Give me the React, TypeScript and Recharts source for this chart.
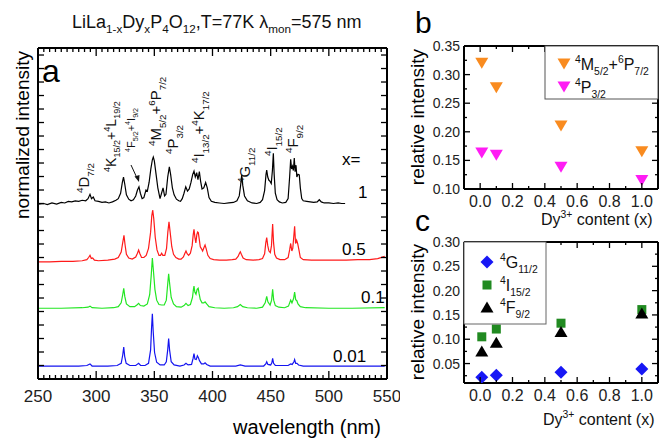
import React from "react";
import { LineChart, Line, XAxis, YAxis, ScatterChart, Scatter } from "recharts";

const FONT = "'Liberation Sans', Arial, Helvetica, sans-serif";

// Спектри: [довжина хвилі, нм; нормована інтенсивність над власною базовою лінією]
const specX1: [number, number][] = [
  [250, 0.0], [255, 0.01], [258, -0.01], [262, 0.02], [266, 0.0], [270, 0.03], [273, 0.02],
  [276, 0.05], [279, 0.04], [282, 0.06], [285, 0.05], [288, 0.07], [291, 0.06], [293, 0.1],
  [294.7, 0.18], [296, 0.1], [297.5, 0.13], [299, 0.06], [302, 0.05], [305, 0.03], [308, 0.04],
  [311, 0.02], [314, 0.04], [317, 0.07], [319, 0.1], [321, 0.2], [322.5, 0.4], [323.5, 0.5],
  [324.5, 0.38], [326, 0.17], [328, 0.09], [330, 0.06], [332, 0.08], [334, 0.15], [335.5, 0.26],
  [336.8, 0.32], [338, 0.2], [339.5, 0.1], [341, 0.12], [342.8, 0.26], [344, 0.24], [345.5, 0.4],
  [347, 0.65], [348.3, 0.82], [349.1, 0.87], [350, 0.8], [351.5, 0.55], [353, 0.3], [354.9, 0.1],
  [356.2, 0.2], [357.5, 0.3], [358.8, 0.15], [360, 0.18], [361.5, 0.5], [362.9, 0.69], [364, 0.55],
  [365.5, 0.3], [367, 0.17], [369, 0.09], [371, 0.06], [372.5, 0.05], [374, 0.1], [375.5, 0.2],
  [377, 0.32], [378.5, 0.24], [380, 0.28], [381.5, 0.4], [383, 0.55], [384.1, 0.61], [385.2, 0.5],
  [386.4, 0.58], [387.5, 0.45], [388.7, 0.6], [389.8, 0.42], [391, 0.28], [392.5, 0.3], [394.1, 0.4],
  [395.5, 0.3], [397, 0.12], [399, 0.05], [402, 0.03], [406, 0.02], [410, 0.01], [414, 0.02],
  [418, 0.03], [421, 0.06], [423, 0.15], [424.2, 0.35], [425.1, 0.54], [426, 0.35], [427.5, 0.15],
  [430, 0.06], [434, 0.02], [438, 0.01], [441, 0.03], [443, 0.08], [444.8, 0.25], [446, 0.55],
  [446.6, 0.63], [447.5, 0.5], [448.5, 0.44], [449.5, 0.42], [450.5, 0.38], [451.5, 0.62],
  [452.3, 0.94], [453, 0.55], [454, 0.2], [455.5, 0.08], [457.5, 0.04], [460, 0.02], [463, 0.03],
  [465, 0.1], [466.3, 0.5], [467.2, 0.83], [468, 0.65], [468.8, 0.7], [469.5, 0.62], [470.3, 0.85],
  [471, 0.6], [471.8, 0.72], [472.5, 0.5], [473.5, 0.55], [474.6, 0.54], [475.5, 0.3], [476.7, 0.1],
  [478, 0.06], [481, 0.05], [484, 0.04], [487, 0.03], [490, 0.04], [491.8, 0.08], [493.5, 0.04],
  [496, 0.02], [500, 0.02], [504, 0.01], [508, 0.02], [511, 0.01], [514, 0.01],
];

const specX05: [number, number][] = [
  [250, 0.0], [260, 0.0], [270, 0.01], [280, 0.01], [288, 0.02], [292, 0.04], [293.5, 0.08],
  [294.7, 0.12], [295.8, 0.06], [297, 0.07], [298.5, 0.03], [302, 0.02], [310, 0.03], [316, 0.05],
  [319, 0.08], [321.5, 0.18], [322.8, 0.35], [323.9, 0.49], [324.8, 0.32], [326, 0.14], [328, 0.07],
  [331, 0.05], [334, 0.09], [335.5, 0.16], [336.5, 0.22], [337.6, 0.15], [339, 0.08], [341, 0.08],
  [343, 0.12], [345, 0.25], [346.8, 0.55], [347.8, 0.85], [348.6, 0.96], [349.5, 0.8], [350.8, 0.45],
  [352.3, 0.22], [354, 0.12], [355.3, 0.12], [356.3, 0.16], [357.3, 0.12], [359, 0.12], [360.5, 0.25],
  [361.6, 0.55], [362.6, 0.74], [363.6, 0.55], [365, 0.28], [366.5, 0.14], [368.5, 0.08], [371, 0.05],
  [373, 0.05], [375, 0.09], [376.3, 0.16], [377.2, 0.2], [378.2, 0.15], [379.5, 0.12], [381, 0.16],
  [382.5, 0.3], [383.4, 0.5], [384.1, 0.6], [384.9, 0.45], [385.7, 0.35], [386.5, 0.5], [387.2, 0.55],
  [387.8, 0.54], [388.6, 0.42], [389.5, 0.28], [390.3, 0.25], [391.5, 0.2], [392.6, 0.26],
  [393.6, 0.31], [394.6, 0.24], [396, 0.12], [398, 0.06], [401, 0.04], [406, 0.03], [412, 0.03],
  [417, 0.04], [420, 0.05], [422, 0.1], [423.2, 0.16], [423.9, 0.185], [424.8, 0.14], [426.3, 0.07],
  [429, 0.04], [435, 0.03], [440, 0.04], [443, 0.06], [444.8, 0.15], [445.8, 0.35], [446.6, 0.45],
  [447.5, 0.3], [448.5, 0.2], [449.7, 0.17], [450.7, 0.3], [451.7, 0.7], [452.5, 0.35], [453.5, 0.14],
  [455, 0.07], [458, 0.04], [462, 0.04], [465, 0.08], [466.3, 0.22], [467.2, 0.34], [468.2, 0.2],
  [469, 0.25], [469.8, 0.45], [470.6, 0.66], [471.4, 0.34], [472.3, 0.4], [473.2, 0.34], [474.3, 0.22],
  [475.5, 0.08], [478, 0.04], [485, 0.03], [495, 0.03], [505, 0.03], [515, 0.03], [525, 0.04],
  [535, 0.04], [542, 0.06], [548, 0.1],
];

const specX01: [number, number][] = [
  [250, 0.0], [270, 0.0], [288, 0.01], [293, 0.02], [294.7, 0.04], [296.5, 0.01], [305, 0.0],
  [315, 0.01], [319, 0.03], [321.5, 0.1], [322.8, 0.25], [323.7, 0.37], [324.6, 0.22], [326, 0.08],
  [329, 0.03], [333, 0.03], [335, 0.06], [336.5, 0.09], [338, 0.05], [341, 0.04], [344, 0.08],
  [346, 0.25], [347.3, 0.6], [348.3, 0.93], [349.2, 0.7], [350.5, 0.35], [352, 0.15], [354, 0.07],
  [356.3, 0.06], [358.5, 0.06], [360.3, 0.15], [361.5, 0.45], [362.3, 0.64], [363.2, 0.45],
  [364.5, 0.2], [366.5, 0.08], [369, 0.03], [373, 0.02], [375.5, 0.05], [377.2, 0.09], [379, 0.05],
  [381, 0.07], [382.8, 0.2], [383.6, 0.35], [384.1, 0.41], [384.8, 0.3], [385.8, 0.26], [386.8, 0.35],
  [387.7, 0.37], [388.5, 0.27], [389.5, 0.16], [391, 0.1], [392.5, 0.1], [393.6, 0.12], [395, 0.08],
  [397, 0.03], [402, 0.01], [410, 0.0], [418, 0.01], [421.5, 0.03], [423.9, 0.07], [426, 0.03],
  [430, 0.01], [438, 0.0], [443, 0.02], [445.3, 0.1], [446.6, 0.22], [447.6, 0.12], [449.5, 0.06],
  [450.8, 0.15], [451.7, 0.35], [452.6, 0.15], [454, 0.05], [457, 0.02], [462, 0.01], [465.3, 0.04],
  [467.2, 0.15], [468.3, 0.1], [469.7, 0.18], [470.6, 0.3], [471.5, 0.16], [472.5, 0.14],
  [473.5, 0.08], [475.5, 0.03], [480, 0.01], [500, 0.0], [520, 0.0], [548, 0.01],
];

const specX001: [number, number][] = [
  [250, 0.0], [285, 0.0], [292, 0.01], [294.7, 0.04], [296.5, 0.0], [310, 0.0], [318, 0.01],
  [321.5, 0.05], [322.8, 0.2], [323.7, 0.35], [324.5, 0.18], [325.8, 0.05], [329, 0.01], [334, 0.01],
  [336.5, 0.05], [338.2, 0.01], [342, 0.01], [345, 0.05], [346.8, 0.3], [347.6, 0.7], [348.3, 0.97],
  [349, 0.65], [350.2, 0.25], [352, 0.07], [355, 0.02], [358.5, 0.02], [360.3, 0.08], [361.5, 0.3],
  [362.3, 0.51], [363.1, 0.3], [364.5, 0.08], [367, 0.02], [372, 0.0], [375.5, 0.02], [377.2, 0.05],
  [379, 0.02], [382, 0.03], [383.3, 0.14], [384.1, 0.23], [384.9, 0.13], [386, 0.12], [387, 0.19],
  [387.8, 0.16], [388.8, 0.1], [390.5, 0.04], [392.5, 0.04], [393.6, 0.06], [395, 0.03], [398, 0.0],
  [420, 0.0], [423.9, 0.02], [428, 0.0], [444, 0.0], [445.8, 0.04], [446.6, 0.08], [447.6, 0.03],
  [450, 0.02], [451, 0.06], [451.7, 0.14], [452.5, 0.05], [454, 0.01], [465, 0.01], [467.2, 0.04],
  [468.5, 0.03], [470, 0.08], [470.6, 0.12], [471.5, 0.05], [472.6, 0.05], [474, 0.02], [478, 0.0],
  [548, 0.0],
];

const spectra = [specX1, specX05, specX01, specX001];
const spectrumLabels = ["1", "0.5", "0.1", "0.01"];
const spectrumOffsets = [3.24, 2.17, 1.31, 0.24];
const spectrumColors = ["#000000", "#ff1a1a", "#22e622", "#1414f0"];

// Панелі b, c: вміст Dy3+ та відносні інтенсивності
const dyContent = [0.01, 0.1, 0.5, 1.0];
const relM52P72 = [0.32, 0.277, 0.21, 0.165];
const relP32 = [0.163, 0.159, 0.138, 0.115];
const relG112 = [0.022, 0.026, 0.032, 0.039];
const relI152 = [0.105, 0.121, 0.133, 0.161];
const relF92 = [0.076, 0.094, 0.116, 0.154];

const wlTicks = Array.from({ length: 61 }, (_, i) => 250 + i * 5);
const intTicks = Array.from({ length: 25 }, (_, i) => i * 0.25);
const dyTicks = Array.from({ length: 11 }, (_, i) => i / 10);
const bTicks = Array.from({ length: 11 }, (_, i) => 0.1 + i * 0.025);
const cTicks = Array.from({ length: 12 }, (_, i) => 0.025 + i * 0.025);

const toPoints = (xs: number[], ys: number[]) => xs.map((x, i) => ({ x, y: ys[i] }));

type Side = "bottom" | "top" | "left" | "right";
const tickRenderer =
  (side: Side, major: (v: number) => boolean, majorLen: number, minorLen: number,
    fmt?: (v: number) => string, fontSize = 14, gap = 16) =>
  (props: any) => {
    const { x, y, payload } = props;
    const v = payload.value as number;
    const big = major(v);
    const len = big ? majorLen : minorLen;
    let x2 = x;
    let y2 = y;
    if (side === "bottom") y2 = y - len;
    else if (side === "top") y2 = y + len;
    else if (side === "left") x2 = x + len;
    else x2 = x - len;
    let label = null;
    if (big && fmt) {
      if (side === "bottom")
        label = (
          <text x={x} y={y + gap} textAnchor="middle" fontSize={fontSize} fontFamily={FONT} fill="#222">
            {fmt(v)}
          </text>
        );
      else if (side === "left")
        label = (
          <text x={x - gap} y={y} dy="0.36em" textAnchor="end" fontSize={fontSize} fontFamily={FONT} fill="#222">
            {fmt(v)}
          </text>
        );
    }
    return (
      <g>
        <line x1={x} y1={y} x2={x2} y2={y2} stroke="#000" strokeWidth={1.3} />
        {label}
      </g>
    );
  };

type Part = { kind: "n" | "sup" | "sub"; text: string };
const parse = (s: string): Part[] => {
  const out: Part[] = [];
  const re = /\^\{([^}]*)\}|_\{([^}]*)\}|([^^_]+)/g;
  let m: RegExpExecArray | null;
  while ((m = re.exec(s))) {
    if (m[1] !== undefined) out.push({ kind: "sup", text: m[1] });
    else if (m[2] !== undefined) out.push({ kind: "sub", text: m[2] });
    else out.push({ kind: "n", text: m[3] });
  }
  return out;
};

const Rich = ({ s, x, y, size, rotate = false, anchor = "start", small = 0.65 }: any) => {
  let cur = 0;
  return (
    <text x={x} y={y} fontSize={size} fontFamily={FONT} textAnchor={anchor} fill="#111"
      transform={rotate ? `rotate(-90 ${x} ${y})` : undefined}>
      {parse(s).map((p, i) => {
        const target = p.kind === "sup" ? -size * 0.42 : p.kind === "sub" ? size * 0.3 : 0;
        const dy = target - cur;
        cur = target;
        return (
          <tspan key={i} dy={dy} fontSize={p.kind === "n" ? size : size * small}>
            {p.text}
          </tspan>
        );
      })}
    </text>
  );
};

const TriDown = ({ cx, cy, fill }: any) => (
  <polygon points={`${cx - 6.5},${cy - 5.5} ${cx + 6.5},${cy - 5.5} ${cx},${cy + 5.5}`} fill={fill} />
);
const TriUp = ({ cx, cy, fill }: any) => (
  <polygon points={`${cx - 6.5},${cy + 5.5} ${cx + 6.5},${cy + 5.5} ${cx},${cy - 5.5}`} fill={fill} />
);
const Diamond = ({ cx, cy, fill }: any) => (
  <polygon points={`${cx},${cy - 6.5} ${cx + 6.5},${cy} ${cx},${cy + 6.5} ${cx - 6.5},${cy}`} fill={fill} />
);
const Square = ({ cx, cy, fill }: any) => <rect x={cx - 4.5} y={cy - 4.5} width={9} height={9} fill={fill} />;

const ORANGE = "#f98b1f";
const MAGENTA = "#ff1cf4";
const BLUE = "#1717f5";
const GREEN = "#218a21";

const frame = { stroke: "#000", strokeWidth: 2 };
const isMajor50 = (v: number) => v % 50 === 0;
const isMajorEven = (v: number) => Math.round(v * 10) % 2 === 0;
const isMajorQ = (v: number) => Math.round(v / 0.025) % 2 === 0;

const rotatedTerms = [
  { s: "^{4}D_{7/2}", x: 89, y: 193, size: 15 },
  { s: "^{4}K_{15/2}+^{4}L_{19/2}", x: 116, y: 172, size: 14 },
  { s: "^{4}F_{5/2}+^{4}I_{9/2}", x: 135, y: 152, size: 11 },
  { s: "^{4}M_{5/2}+^{6}P_{7/2}", x: 161, y: 146, size: 15 },
  { s: "^{4}P_{3/2}", x: 178, y: 154, size: 15 },
  { s: "^{4}I_{13/2}+^{4}K_{17/2}", x: 204, y: 163, size: 15 },
  { s: "^{4}G_{11/2}", x: 250, y: 183, size: 15 },
  { s: "^{4}I_{15/2}", x: 277, y: 156, size: 15 },
  { s: "^{4}F_{9/2}", x: 298, y: 153, size: 15 },
];
const xLabelPos = [
  { x: 358, y: 198 },
  { x: 342, y: 255 },
  { x: 361, y: 303 },
  { x: 333, y: 362 },
];

export default function App() {
  return (
    <div style={{ position: "absolute", left: 0, top: 0, width: 661, height: 439, background: "#fff" }}>
      <div style={{ position: "absolute", left: 0, top: 0 }}>
        <LineChart width={400} height={439} margin={{ top: 47, right: 12, bottom: 59, left: 37 }}>
          <XAxis xAxisId="b" dataKey="x" type="number" domain={[250, 550]} allowDataOverflow
            ticks={wlTicks} interval={0} height={1} tickSize={0} tickMargin={0} tickLine={false}
            axisLine={frame} tick={tickRenderer("bottom", isMajor50, 8, 4, (v) => String(v), 17, 23)} />
          <XAxis xAxisId="t" orientation="top" dataKey="x" type="number" domain={[250, 550]} allowDataOverflow
            ticks={wlTicks} interval={0} height={1} tickSize={0} tickMargin={0} tickLine={false}
            axisLine={frame} tick={tickRenderer("top", isMajor50, 8, 4)} />
          <YAxis yAxisId="l" type="number" domain={[0, 6.13]} allowDataOverflow ticks={intTicks}
            interval={0} width={1} tickSize={0} tickMargin={0} tickLine={false} axisLine={frame}
            tick={tickRenderer("left", () => true, 6, 6)} />
          <YAxis yAxisId="r" orientation="right" type="number" domain={[0, 6.13]} allowDataOverflow
            ticks={intTicks} interval={0} width={1} tickSize={0} tickMargin={0} tickLine={false}
            axisLine={frame} tick={tickRenderer("right", () => true, 6, 6)} />
          {spectra.map((spec, i) => (
            <Line key={spectrumLabels[i]} xAxisId="b" yAxisId="l" type="linear"
              data={spec.map(([w, v]) => ({ x: w, y: v + spectrumOffsets[i] }))} dataKey="y"
              stroke={spectrumColors[i]} strokeWidth={1.2} dot={false} isAnimationActive={false} />
          ))}
        </LineChart>
      </div>

      <div style={{ position: "absolute", left: 400, top: 0 }}>
        <ScatterChart width={261} height={230} margin={{ top: 45, right: 2, bottom: 40, left: 63 }}>
          <XAxis xAxisId="b" dataKey="x" type="number" domain={[-0.1, 1.1]} allowDataOverflow ticks={dyTicks}
            interval={0} height={1} tickSize={0} tickMargin={0} tickLine={false} axisLine={frame}
            tick={tickRenderer("bottom", isMajorEven, 6, 3, (v) => v.toFixed(1), 16, 18)} />
          <XAxis xAxisId="t" orientation="top" dataKey="x" type="number" domain={[-0.1, 1.1]} allowDataOverflow
            ticks={dyTicks} interval={0} height={1} tickSize={0} tickMargin={0} tickLine={false}
            axisLine={frame} tick={tickRenderer("top", isMajorEven, 6, 3)} />
          <YAxis yAxisId="l" dataKey="y" type="number" domain={[0.1, 0.35]} allowDataOverflow ticks={bTicks}
            interval={0} width={1} tickSize={0} tickMargin={0} tickLine={false} axisLine={frame}
            tick={tickRenderer("left", isMajorQ, 6, 3, (v) => v.toFixed(2), 14, 4)} />
          <YAxis yAxisId="r" orientation="right" dataKey="y" type="number" domain={[0.1, 0.35]} allowDataOverflow
            ticks={bTicks} interval={0} width={1} tickSize={0} tickMargin={0} tickLine={false}
            axisLine={frame} tick={tickRenderer("right", isMajorQ, 6, 3)} />
          <Scatter xAxisId="b" yAxisId="l" data={toPoints(dyContent, relM52P72)} fill={ORANGE}
            shape={(p: any) => <TriDown {...p} fill={ORANGE} />} isAnimationActive={false} />
          <Scatter xAxisId="b" yAxisId="l" data={toPoints(dyContent, relP32)} fill={MAGENTA}
            shape={(p: any) => <TriDown {...p} fill={MAGENTA} />} isAnimationActive={false} />
        </ScatterChart>
      </div>

      <div style={{ position: "absolute", left: 400, top: 230 }}>
        <ScatterChart width={261} height={209} margin={{ top: 11, right: 2, bottom: 55, left: 63 }}>
          <XAxis xAxisId="b" dataKey="x" type="number" domain={[-0.1, 1.1]} allowDataOverflow ticks={dyTicks}
            interval={0} height={1} tickSize={0} tickMargin={0} tickLine={false} axisLine={frame}
            tick={tickRenderer("bottom", isMajorEven, 6, 3, (v) => v.toFixed(1), 16, 18)} />
          <XAxis xAxisId="t" orientation="top" dataKey="x" type="number" domain={[-0.1, 1.1]} allowDataOverflow
            ticks={dyTicks} interval={0} height={1} tickSize={0} tickMargin={0} tickLine={false}
            axisLine={frame} tick={tickRenderer("top", isMajorEven, 6, 3)} />
          <YAxis yAxisId="l" dataKey="y" type="number" domain={[0.01, 0.3]} allowDataOverflow ticks={cTicks}
            interval={0} width={1} tickSize={0} tickMargin={0} tickLine={false} axisLine={frame}
            tick={tickRenderer("left", isMajorQ, 6, 3, (v) => v.toFixed(2), 14, 4)} />
          <YAxis yAxisId="r" orientation="right" dataKey="y" type="number" domain={[0.01, 0.3]} allowDataOverflow
            ticks={cTicks} interval={0} width={1} tickSize={0} tickMargin={0} tickLine={false}
            axisLine={frame} tick={tickRenderer("right", isMajorQ, 6, 3)} />
          <Scatter xAxisId="b" yAxisId="l" data={toPoints(dyContent, relG112)} fill={BLUE}
            shape={(p: any) => <Diamond {...p} fill={BLUE} />} isAnimationActive={false} />
          <Scatter xAxisId="b" yAxisId="l" data={toPoints(dyContent, relI152)} fill={GREEN}
            shape={(p: any) => <Square {...p} fill={GREEN} />} isAnimationActive={false} />
          <Scatter xAxisId="b" yAxisId="l" data={toPoints(dyContent, relF92)} fill="#000"
            shape={(p: any) => <TriUp {...p} fill="#000" />} isAnimationActive={false} />
        </ScatterChart>
      </div>

      <svg width={661} height={439} style={{ position: "absolute", left: 0, top: 0, pointerEvents: "none" }}>
        {/* панель a */}
        <Rich s="LiLa_{1-x}Dy_{x}P_{4}O_{12},T=77K λ_{mon}=575 nm" x={72} y={28} size={18} />
        <text x={42} y={82} fontSize={32} fontFamily={FONT}>a</text>
        <text x={29} y={135} fontSize={19} fontFamily={FONT} textAnchor="middle" transform="rotate(-90 29 135)">
          normalized intensity
        </text>
        <text x={307} y={434} fontSize={20} fontFamily={FONT} textAnchor="middle">wavelength (nm)</text>
        {rotatedTerms.map((t) => (
          <Rich key={t.s} s={t.s} x={t.x} y={t.y} size={t.size} rotate />
        ))}
        <line x1={131} y1={165} x2={137} y2={178} stroke="#111" strokeWidth={1} />
        <polygon points="139,182 134.5,176.5 139.5,175" fill="#111" />
        <text x={342} y={165} fontSize={17} fontFamily={FONT}>x=</text>
        {spectrumLabels.map((l, i) => (
          <text key={l} x={xLabelPos[i].x} y={xLabelPos[i].y} fontSize={17} fontFamily={FONT}>{l}</text>
        ))}

        {/* панель b */}
        <text x={415} y={33} fontSize={30} fontFamily={FONT}>b</text>
        <text x={424} y={117} fontSize={19} fontFamily={FONT} textAnchor="middle" transform="rotate(-90 424 117)">
          relative intensity
        </text>
        <Rich s="Dy^{3+} content (x)" x={541} y={225} size={16} />
        <rect x={545} y={46} width={113} height={53} fill="#fff" stroke="#555" strokeWidth={1} />
        <TriDown cx={564} cy={64} fill={ORANGE} />
        <Rich s="^{4}M_{5/2}+^{6}P_{7/2}" x={575} y={70} size={16} />
        <TriDown cx={564} cy={87} fill={MAGENTA} />
        <Rich s="^{4}P_{3/2}" x={575} y={93} size={16} />

        {/* панель c */}
        <text x={415} y={231} fontSize={30} fontFamily={FONT}>c</text>
        <text x={424} y={312} fontSize={19} fontFamily={FONT} textAnchor="middle" transform="rotate(-90 424 312)">
          relative intensity
        </text>
        <Rich s="Dy^{3+} content (x)" x={543} y={425} size={16} />
        <rect x={464} y={242} width={82} height={82} fill="#fff" stroke="#666" strokeWidth={1} />
        <Diamond cx={487} cy={262} fill={BLUE} />
        <Rich s="^{4}G_{11/2}" x={500} y={268} size={16} />
        <Square cx={487} cy={285} fill={GREEN} />
        <Rich s="^{4}I_{15/2}" x={500} y={291} size={16} />
        <TriUp cx={487} cy={307} fill="#000" />
        <Rich s="^{4}F_{9/2}" x={500} y={313} size={16} />
      </svg>
    </div>
  );
}
